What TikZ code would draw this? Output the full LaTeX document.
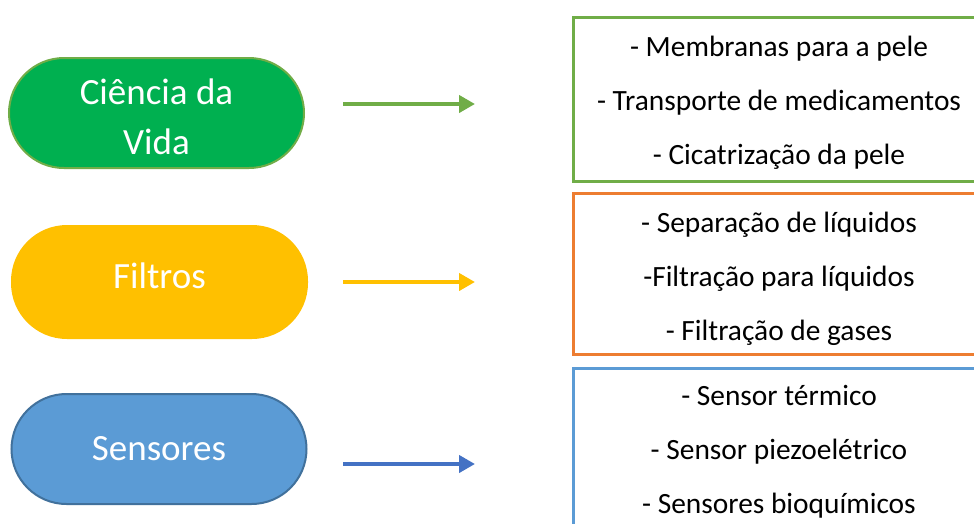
\documentclass[tikz,border=0pt]{standalone}
\usepackage{fontspec}
\setmainfont{Carlito}
\usetikzlibrary{arrows.meta}
\definecolor{lgreen}{HTML}{00B050}
\definecolor{olive}{HTML}{70AD47}
\definecolor{gold}{HTML}{FFC000}
\definecolor{orng}{HTML}{ED7D31}
\definecolor{sky}{HTML}{5B9BD5}
\definecolor{skydark}{HTML}{41719C}
\definecolor{arrblue}{HTML}{4472C4}
\tikzset{
  pill/.style={rectangle, rounded corners=55pt, minimum width=295pt, minimum height=110pt,
    inner sep=0pt, line width=2pt},
  pilltext/.style={text=white, font=\fontsize{37}{50}\selectfont, align=center, inner sep=0pt},
  listbox/.style={rectangle, minimum width=412pt, line width=3pt, fill=white, inner sep=0pt},
  listtext/.style={font=\fontsize{29.4}{54}\selectfont, align=center, inner sep=0pt},
  arr/.style={line width=4pt, -{Triangle[length=16pt,width=17pt]}},
}
\begin{document}
\begin{tikzpicture}[x=1pt,y=-1pt]
\useasboundingbox (0,0) rectangle (974,523);
\clip (0,0) rectangle (974,523);
\fill[white] (0,0) rectangle (974,523);
% pills
\node[pill, fill=lgreen, draw=olive] (p1) at (156.5,113) {};
\node[pilltext] (p1t) at ([yshift=-4pt]p1.center) {Ciência da\\Vida};
\node[pill, fill=gold, draw=gold, minimum height=112pt] (p2) at (159.5,282) {};
\node[pilltext] (p2t) at ([yshift=6pt]p2.center) {Filtros};
\node[pill, fill=sky, draw=skydark] (p3) at (159,449) {};
\node[pilltext] (p3t) at (p3.center) {Sensores};
% boxes
\node[listbox, draw=olive, minimum height=164pt] (b1) at (779,99) {};
\node[listtext] (b1t) at ([yshift=-4pt]b1.center) {- Membranas para a pele\\- Transporte de medicamentos\\- Cicatrização da pele};
\node[listbox, draw=orng, minimum height=161pt] (b2) at (779,273.5) {};
\node[listtext] (b2t) at ([yshift=-5.5pt]b2.center) {- Separação de líquidos\\-Filtração para líquidos\\- Filtração de gases};
\node[listbox, draw=sky, minimum height=162pt] (b3) at (779,449) {};
\node[listtext] (b3t) at ([yshift=-3pt]b3.center) {- Sensor térmico\\- Sensor piezoelétrico\\- Sensores bioquímicos};
% arrows
\coordinate (a1s) at (343,104); \coordinate (a1e) at (475,104);
\coordinate (a2s) at (343,282); \coordinate (a2e) at (475,282);
\coordinate (a3s) at (343,464); \coordinate (a3e) at (475,464);
\draw[arr, olive] (a1s) -- (a1e);
\draw[arr, gold] (a2s) -- (a2e);
\draw[arr, arrblue] (a3s) -- (a3e);
\end{tikzpicture}
\end{document}
